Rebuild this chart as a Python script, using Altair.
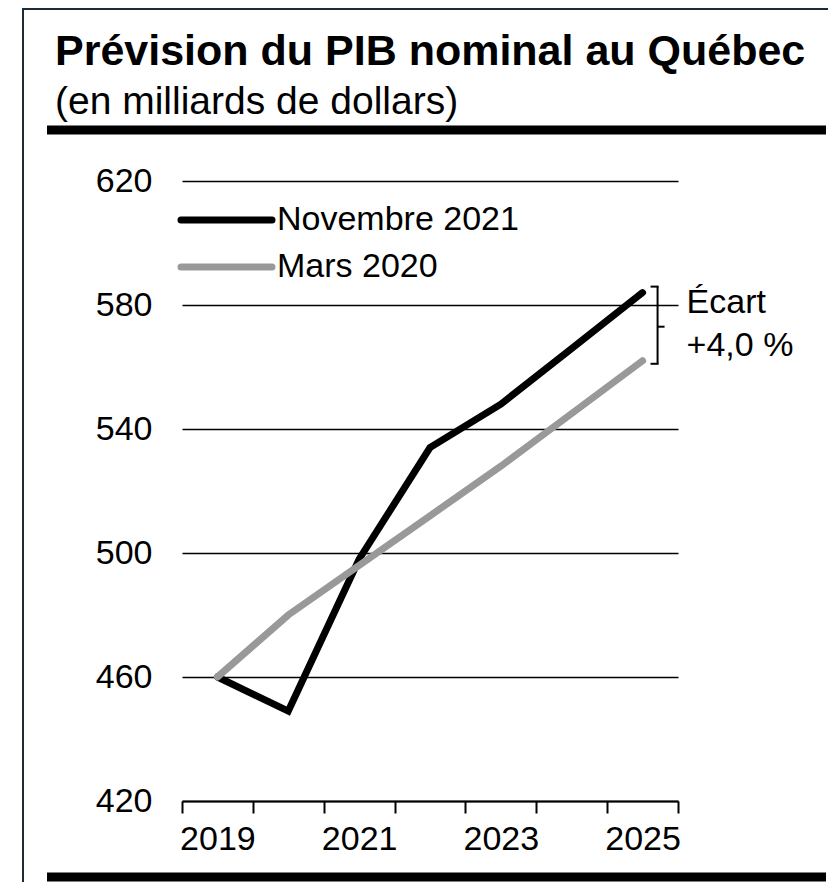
import altair as alt
import pandas as pd

# ---- data ----
years = ["2019", "2020", "2021", "2022", "2023", "2024", "2025"]
nov_2021 = [460, 449, 498, 534, 548, 566, 584]
mars_2020 = [460, 480, 496, 512, 528, 545, 562]
series_names = ["Novembre 2021", "Mars 2020"]
series_colors = ["#000000", "#999999"]
y_ticks = [420, 460, 500, 540, 580, 620]
title_text = "Prévision du PIB nominal au Québec"
subtitle_text = "(en milliards de dollars)"
gap_labels = ["Écart", "+4,0 %"]

FONT = "Liberation Sans"

df_nov = pd.DataFrame({"year": years, "value": nov_2021})
df_mars = pd.DataFrame({"year": years, "value": mars_2020})

x_scale = alt.Scale(type="band", domain=years, paddingInner=0, paddingOuter=0)
y_scale = alt.Scale(domain=[420, 620], nice=False, zero=False)

x_axis = alt.Axis(
    title=None, tickBand="extent", tickSize=12, tickWidth=2, tickColor="black",
    domainColor="black", domainWidth=2, labelFontSize=34, labelFont=FONT,
    labelColor="black", labelPadding=9, labelAngle=0, grid=False,
    labelOverlap=False,
    labelExpr="toNumber(datum.value) % 2 == 1 ? datum.label : ''",
)
y_axis = alt.Axis(
    title=None, values=y_ticks, grid=True, gridColor="black", gridWidth=1.5,
    domain=False, ticks=False, labelFontSize=34, labelFont=FONT,
    labelColor="black", labelPadding=30,
)

X = alt.X("year:O", scale=x_scale, axis=x_axis)
Y = alt.Y("value:Q", scale=y_scale, axis=y_axis)

nov_line = alt.Chart(df_nov).mark_line(
    color=series_colors[0], strokeWidth=7, strokeCap="round"
).encode(x=X, y=Y)
mars_line = alt.Chart(df_mars).mark_line(
    color=series_colors[1], strokeWidth=7, strokeCap="round"
).encode(x=X, y=Y)

# ---- legend (inside plot) ----
legend_layers = []
for i, (name, col) in enumerate(zip(series_names, series_colors)):
    ldf = pd.DataFrame({"name": [name]})
    yy = 39 + 47 * i
    legend_layers.append(
        alt.Chart(ldf).mark_rule(color=col, strokeWidth=7, strokeCap="round").encode(
            x=alt.value(-1), x2=alt.value(90), y=alt.value(yy)
        )
    )
    legend_layers.append(
        alt.Chart(ldf).mark_text(
            align="left", baseline="middle", font=FONT, fontSize=34, color="black"
        ).encode(x=alt.value(95), y=alt.value(yy), text="name:N")
    )

# ---- bracket (gap between the two 2025 values) ----
last_year = years[-1]
df_vert = pd.DataFrame({"year": [last_year], "value": [nov_2021[-1]], "value2": [mars_2020[-1]]})
df_top = pd.DataFrame({"year": [last_year], "value": [nov_2021[-1]]})
df_bot = pd.DataFrame({"year": [last_year], "value": [mars_2020[-1]]})
df_mid = pd.DataFrame({"year": [last_year], "value": [(nov_2021[-1] + mars_2020[-1]) / 2]})

bracket_v = alt.Chart(df_vert).mark_rule(
    color="black", strokeWidth=2, xOffset=15, yOffset=-6, y2Offset=3
).encode(x=X, y=Y, y2="value2:Q")
bracket_t = alt.Chart(df_top).mark_rule(
    color="black", strokeWidth=2, xOffset=8, x2Offset=16, yOffset=-6
).encode(x=X, x2="year:O", y=Y)
bracket_b = alt.Chart(df_bot).mark_rule(
    color="black", strokeWidth=2, xOffset=8, x2Offset=16, yOffset=3
).encode(x=X, x2="year:O", y=Y)
bracket_m = alt.Chart(df_mid).mark_rule(
    color="black", strokeWidth=2, xOffset=15, x2Offset=22
).encode(x=X, x2="year:O", y=Y)

ann_layers = []
for i, lab in enumerate(gap_labels):
    adf = pd.DataFrame({"year": [last_year], "label": [lab]})
    ann_layers.append(
        alt.Chart(adf).mark_text(
            align="left", baseline="alphabetic", font=FONT, fontSize=34,
            color="black", dx=44
        ).encode(x=X, y=alt.value(132 + 43 * i), text="label:N")
    )

# ---- title, subtitle, rules, frame ----
df_title = pd.DataFrame({"t": [title_text]})
df_sub = pd.DataFrame({"t": [subtitle_text]})
title = alt.Chart(df_title).mark_text(
    align="left", baseline="alphabetic", font=FONT, fontSize=43,
    fontWeight="bold", color="black"
).encode(x=alt.value(-127), y=alt.value(-116), text="t:N")
subtitle = alt.Chart(df_sub).mark_text(
    align="left", baseline="alphabetic", font=FONT, fontSize=39, color="black"
).encode(x=alt.value(-127), y=alt.value(-67), text="t:N")

one = pd.DataFrame({"k": [0]})
rule_top = alt.Chart(one).mark_rule(color="black", strokeWidth=9).encode(
    x=alt.value(-135), x2=alt.value(644), y=alt.value(-51)
)
rule_bot = alt.Chart(one).mark_rule(color="black", strokeWidth=9).encode(
    x=alt.value(-135), x2=alt.value(644), y=alt.value(696)
)
frame_left = alt.Chart(one).mark_rule(color="#1c2b39", strokeWidth=2).encode(
    x=alt.value(-159), y=alt.value(-173), y2=alt.value(710)
)
frame_top = alt.Chart(one).mark_rule(color="#1c2b39", strokeWidth=2).encode(
    x=alt.value(-160), x2=alt.value(660), y=alt.value(-172)
)

chart = alt.layer(
    frame_left, frame_top, rule_top, rule_bot, title, subtitle,
    nov_line, mars_line,
    bracket_v, bracket_t, bracket_b, bracket_m,
    *legend_layers, *ann_layers,
).properties(
    width=496, height=620,
    autosize=alt.AutoSizeParams(type="none"),
    padding={"left": 174, "top": 173, "right": 150, "bottom": 81},
    background="white",
).configure_view(stroke=None)

chart.save("out.html", embed_options={"renderer": "svg", "actions": False})
